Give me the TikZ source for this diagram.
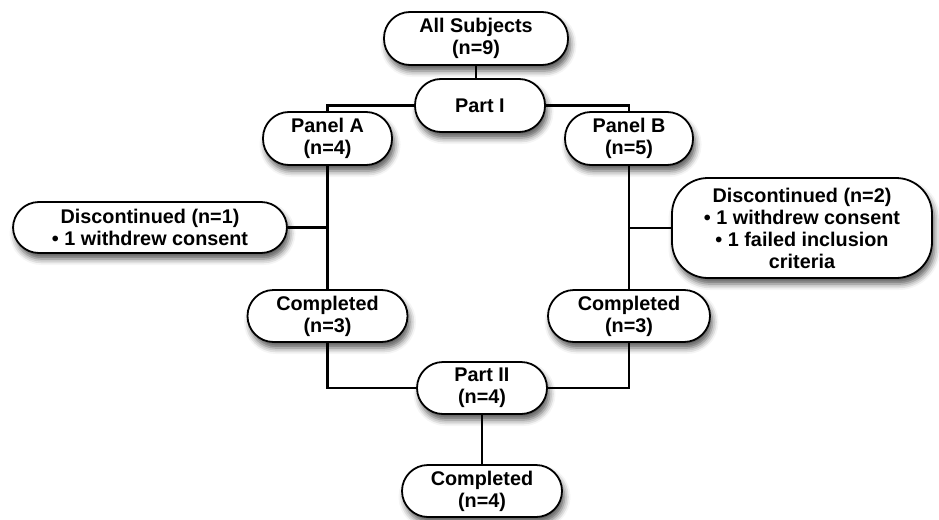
\documentclass[tikz,border=0pt]{standalone}
\usepackage{fontspec}
\setmainfont{Liberation Sans}
\usetikzlibrary{shadows.blur}
\tikzset{
  box/.style={draw=black, line width=1.8pt, fill=white, rounded corners=26pt,
    align=center, inner sep=0pt, font=\bfseries\fontsize{19.8}{22}\selectfont,
    blur shadow={shadow xshift=2.5pt, shadow yshift=-6pt, shadow blur radius=6pt, shadow opacity=65}},
  conn/.style={draw=black, line width=2.5pt}
}
\begin{document}
\begin{tikzpicture}[x=1pt,y=1pt]
\useasboundingbox (0,0) rectangle (939,-519);
\node[box, minimum width=184pt, minimum height=53pt] (all) at (476,-38.5) {All Subjects\\(n=9)};
\node[box, minimum width=130pt, minimum height=53pt] (p1) at (480,-105.5) {Part I};
\node[box, minimum width=129pt, minimum height=53pt] (pa) at (327.5,-138.5) {Panel A\\(n=4)};
\node[box, minimum width=128pt, minimum height=53pt] (pb) at (629,-138.5) {Panel B\\(n=5)};
\node[box, minimum width=274pt, minimum height=51pt] (dl) at (150,-227.5) {Discontinued (n=1)\\• 1 withdrew consent};
\node[box, minimum width=260pt, minimum height=100pt, rounded corners=36pt] (dr) at (802,-228) {Discontinued (n=2)\\• 1 withdrew consent\\• 1 failed inclusion\\criteria};
\node[box, minimum width=160pt, minimum height=52pt] (ca) at (327.5,-316) {Completed\\(n=3)};
\node[box, minimum width=162pt, minimum height=52pt] (cb) at (629,-316) {Completed\\(n=3)};
\node[box, minimum width=130pt, minimum height=52pt] (p2) at (482,-388) {Part II\\(n=4)};
\node[box, minimum width=160pt, minimum height=52pt] (cf) at (482,-491) {Completed\\(n=4)};
\draw[conn] (p1.north -| all.south) -- (all.south);
\draw[conn] (p1.west) -| (pa.north);
\draw[conn] (p1.east) -| (pb.north);
\draw[conn] (pa.south) -- (ca.north);
\draw[conn] (pb.south) -- (cb.north);
\draw[conn] (dl.east) -- (dl.east -| pa.south);
\draw[conn] (dr.west) -- (dr.west -| pb.south);
\draw[conn] (ca.south) |- (p2.west);
\draw[conn] (cb.south) |- (p2.east);
\draw[conn] (p2.south) -- (cf.north);
\end{tikzpicture}
\end{document}
